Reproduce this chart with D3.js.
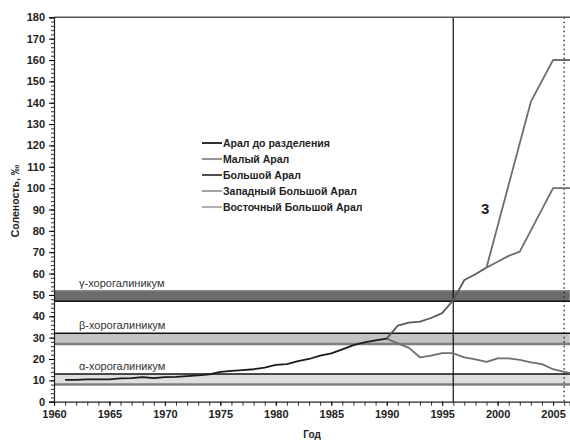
<!DOCTYPE html>
<html>
<head>
<meta charset="utf-8">
<script src="https://cdn.jsdelivr.net/npm/d3@7"></script>
<style>
  body { margin: 0; background: #fff; }
  svg { font-family: "Liberation Sans", Arial, sans-serif; }
  .axis-lbl { font-size: 11px; font-weight: bold; fill: #222; }
</style>
</head>
<body>
<div id="vis"></div>
<script>
// ---------------------------------- data ----------------------------------
// Арал до разделения (1961-1990)
const YEARS_ARAL = [1961, 1962, 1963, 1964, 1965, 1966, 1967, 1968, 1969, 1970,
  1971, 1972, 1973, 1974, 1975, 1976, 1977, 1978, 1979, 1980,
  1981, 1982, 1983, 1984, 1985, 1986, 1987, 1988, 1989, 1990];
const SAL_ARAL = [10.2, 10.2, 10.5, 10.5, 10.5, 10.9, 11.0, 11.5, 11.0, 11.5,
  11.6, 12.0, 12.3, 12.8, 14.0, 14.4, 14.8, 15.2, 16.0, 17.2,
  17.6, 19.0, 20.0, 21.6, 22.6, 24.5, 26.5, 27.8, 28.7, 29.5];

// Малый Арал
const YEARS_SMALL = [1990, 1991, 1992, 1993, 1994, 1995, 1996, 1997, 1998, 1999,
  2000, 2001, 2002, 2003, 2004, 2005, 2006, 2007];
const SAL_SMALL = [29.5, 27.3, 25.2, 20.8, 21.6, 22.7, 22.7, 20.8, 19.8, 18.6,
  20.3, 20.3, 19.6, 18.4, 17.6, 15.2, 14.0, 13.0];

// Большой Арал (до разделения на западный и восточный)
const YEARS_LARGE = [1990, 1991, 1992, 1993, 1994, 1995, 1996, 1997, 1998, 1999];
const SAL_LARGE = [29.5, 35.6, 37.0, 37.5, 39.2, 41.5, 47.5, 57.0, 59.7, 62.8];

// Западный Большой Арал
const YEARS_WEST = [1999, 2000, 2001, 2002, 2005, 2006, 2007];
const SAL_WEST = [62.8, 65.5, 68.3, 70.3, 100, 100, 100];

// Восточный Большой Арал
const YEARS_EAST = [1999, 2003, 2005, 2006, 2007];
const SAL_EAST = [62.8, 140.5, 160, 160, 160];

// хорогалиникум bands
const BAND_NAMES = ["α-хорогалиникум", "β-хорогалиникум", "γ-хорогалиникум"];
const BAND_LOW = [8, 27, 47];
const BAND_HIGH = [13, 32, 52];

const LEGEND_NAMES = ["Арал до разделения", "Малый Арал", "Большой Арал",
  "Западный Большой Арал", "Восточный Большой Арал"];

const Y_TICKS = d3.range(0, 181, 10);
const X_TICKS = d3.range(1960, 2006, 5);
const SPLIT_YEAR = 1996;
const LAST_YEAR = 2006;

// ---------------------------------- chart ---------------------------------
const WIDTH = 570;
const HEIGHT = 440;
const SVG = d3.select("#vis").append("svg")
  .attr("width", WIDTH).attr("height", HEIGHT);

const x = d3.scaleLinear().domain([1960, 2006.5]).range([54, 569.7]);
const y = d3.scaleLinear().domain([0, 180]).range([401.7, 17.3]);

SVG.append("defs").append("clipPath").attr("id", "clip")
  .append("rect").attr("x", 54).attr("y", 17).attr("width", 516).attr("height", 386);

// bands
const bandFill = ["#dedede", "#c3c3c3", "#6b6b6b"];
const bandTop = ["#111", "#111", "#8a8a8a"];
const bandBottom = ["#7e7e7e", "#7e7e7e", "#111"];
const bands = SVG.append("g");
BAND_LOW.forEach((lo, i) => {
  const hi = BAND_HIGH[i];
  bands.append("rect")
    .attr("x", x(1960)).attr("y", y(hi))
    .attr("width", x(2006.5) - x(1960)).attr("height", y(lo) - y(hi))
    .attr("fill", bandFill[i]);
  bands.append("line")
    .attr("x1", x(1960)).attr("x2", WIDTH)
    .attr("y1", y(hi)).attr("y2", y(hi))
    .attr("stroke", bandTop[i]).attr("stroke-width", 1.5);
  bands.append("line")
    .attr("x1", x(1960)).attr("x2", WIDTH)
    .attr("y1", y(lo)).attr("y2", y(lo))
    .attr("stroke", bandBottom[i]).attr("stroke-width", i === 2 ? 1.5 : 2.5);
  bands.append("text")
    .attr("x", 79).attr("y", y(hi) - 4)
    .attr("font-size", 11).attr("fill", "#333")
    .text(BAND_NAMES[i]);
});

// vertical markers
SVG.append("line")
  .attr("x1", x(SPLIT_YEAR)).attr("x2", x(SPLIT_YEAR))
  .attr("y1", y(180)).attr("y2", y(0))
  .attr("stroke", "#111").attr("stroke-width", 1.2);
SVG.append("line")
  .attr("x1", x(LAST_YEAR)).attr("x2", x(LAST_YEAR))
  .attr("y1", y(180)).attr("y2", y(0))
  .attr("stroke", "#111").attr("stroke-width", 1.2)
  .attr("stroke-dasharray", "1.5,3");

// lines
const line = d3.line().x(d => x(d[0])).y(d => y(d[1]));
const series = [
  { yrs: YEARS_SMALL, vals: SAL_SMALL, color: "#6e6e6e" },
  { yrs: YEARS_WEST, vals: SAL_WEST, color: "#6e6e6e" },
  { yrs: YEARS_EAST, vals: SAL_EAST, color: "#6e6e6e" },
  { yrs: YEARS_LARGE, vals: SAL_LARGE, color: "#5a5a5a" },
  { yrs: YEARS_ARAL, vals: SAL_ARAL, color: "#1a1a1a" }
];
const lines = SVG.append("g").attr("clip-path", "url(#clip)");
series.forEach(s => {
  lines.append("path")
    .datum(s.yrs.map((yr, i) => [yr, s.vals[i]]))
    .attr("fill", "none")
    .attr("stroke", s.color)
    .attr("stroke-width", 1.8)
    .attr("stroke-linejoin", "round")
    .attr("d", line);
});

// top border
SVG.append("line")
  .attr("x1", x(1960)).attr("x2", WIDTH)
  .attr("y1", y(180)).attr("y2", y(180))
  .attr("stroke", "#555").attr("stroke-width", 1.5);

// y axis
const yAxis = SVG.append("g").attr("transform", `translate(${x(1960)},0)`);
yAxis.call(d3.axisLeft(y).tickValues(d3.range(0, 181, 2)).tickSize(3).tickFormat(""));
yAxis.call(g => g.select(".domain").remove());
yAxis.selectAll(".tick line").attr("stroke", "#333");
SVG.append("g").attr("transform", `translate(${x(1960)},0)`)
  .call(d3.axisLeft(y).tickValues(Y_TICKS).tickSize(5).tickPadding(4))
  .call(g => g.select(".domain").attr("stroke", "#222").attr("stroke-width", 1.2))
  .call(g => g.selectAll("text").attr("class", "axis-lbl").attr("font-family", null).attr("font-size", null));

// x axis
const xAxis = SVG.append("g").attr("transform", `translate(0,${y(0)})`);
xAxis.call(d3.axisBottom(x).tickValues(d3.range(1960, 2007, 1)).tickSize(4).tickFormat(""));
xAxis.call(g => g.select(".domain").remove());
xAxis.selectAll(".tick line").attr("stroke", "#333");
SVG.append("g").attr("transform", `translate(0,${y(0)})`)
  .call(d3.axisBottom(x).tickValues(X_TICKS).tickSize(4).tickPadding(5).tickFormat(d3.format("d")))
  .call(g => g.select(".domain").attr("stroke", "#222").attr("stroke-width", 1.2))
  .call(g => g.selectAll("text").attr("class", "axis-lbl").attr("font-family", null).attr("font-size", null));

// axis titles
SVG.append("text")
  .attr("x", 312).attr("y", 438)
  .attr("text-anchor", "middle")
  .attr("font-size", 10).attr("font-weight", "bold").attr("fill", "#222")
  .text("Год");
SVG.append("text")
  .attr("transform", "translate(19,201) rotate(-90)")
  .attr("text-anchor", "middle")
  .attr("font-size", 10.5).attr("font-weight", "bold").attr("fill", "#222")
  .text("Соленость, ‰");

// label "3"
SVG.append("text")
  .attr("x", x(1998.5)).attr("y", y(88))
  .attr("font-size", 15).attr("font-weight", "bold").attr("fill", "#222")
  .text("3");

// legend
const legendColors = ["#1a1a1a", "#8a8a8a", "#3a3a3a", "#9a9a9a", "#aaaaaa"];
const legend = SVG.append("g").attr("transform", "translate(202,143)");
LEGEND_NAMES.forEach((name, i) => {
  const row = legend.append("g").attr("transform", `translate(0,${i * 16})`);
  row.append("line")
    .attr("x1", 0).attr("x2", 20).attr("y1", 0).attr("y2", 0)
    .attr("stroke", legendColors[i]).attr("stroke-width", 1.8);
  row.append("text")
    .attr("x", 21).attr("y", 4)
    .attr("font-size", 10.5).attr("font-weight", "bold").attr("fill", "#222")
    .text(name);
});
</script>
</body>
</html>
